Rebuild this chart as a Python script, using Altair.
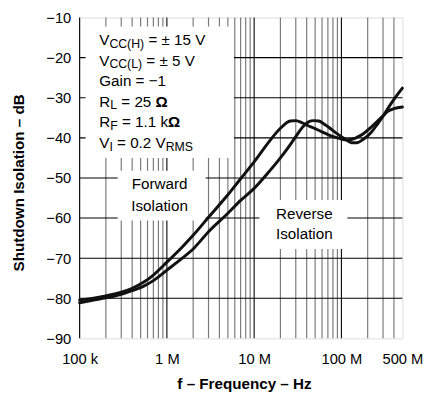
import altair as alt
import pandas as pd

# ---------------- data ----------------
freq_fwd = [1e5, 1.5e5, 2e5, 3e5, 4e5, 5.5e5, 7e5, 1e6, 1.5e6, 2e6, 3e6, 5e6, 7e6, 1e7,
            1.5e7, 2e7, 2.6e7, 3e7, 3.6e7, 4e7, 5e7, 6e7, 7.2e7, 9e7, 1e8, 1.15e8, 1.3e8,
            1.5e8, 1.8e8, 2.2e8, 2.6e8, 3e8, 3.4e8, 4e8, 5e8]
db_fwd = [-80.4, -79.9, -79.4, -78.5, -77.5, -75.9, -74.2, -71.0, -67.2, -64.3, -59.8, -54.2,
          -50.2, -46.0, -40.8, -37.6, -35.8, -35.7, -36.3, -36.8, -37.7, -38.5, -39.3, -40.0,
          -40.3, -40.5, -40.4, -39.9, -38.9, -37.3, -35.8, -34.5, -33.4, -32.7, -32.3]

freq_rev = [1e5, 1.5e5, 2e5, 3e5, 4e5, 5.5e5, 7e5, 1e6, 1.5e6, 2e6, 3e6, 5e6, 7e6, 1e7,
            1.5e7, 2e7, 2.5e7, 3e7, 3.6e7, 4.2e7, 4.8e7, 5.5e7, 6.2e7, 7.2e7, 9e7, 1e8,
            1.15e8, 1.3e8, 1.5e8, 1.8e8, 2.2e8, 2.6e8, 3e8, 3.4e8, 4e8, 5e8]
db_rev = [-81.1, -80.4, -79.9, -79.0, -78.1, -76.9, -75.6, -73.0, -70.0, -67.7, -63.4, -58.8,
          -55.6, -52.6, -48.3, -45.0, -42.2, -39.7, -37.3, -36.0, -35.7, -35.8, -36.4, -37.4,
          -39.0, -39.7, -40.6, -41.2, -41.2, -40.3, -38.6, -36.5, -34.6, -32.7, -30.4, -27.6]

x_tick_values = [1e5, 1e6, 1e7, 1e8, 5e8]
x_tick_labels = ["100 k", "1 M", "10 M", "100 M", "500 M"]
y_tick_values = [-90, -80, -70, -60, -50, -40, -30, -20, -10]

minor_freqs = [m * 10 ** e for e in range(5, 9) for m in range(1, 10) if m * 10 ** e <= 5e8]
major_freqs = [1e5, 1e6, 1e7, 1e8]
hgrid_db = [-80, -70, -60, -50, -40, -30, -20]

cond_lines = [
    [("V", "n"), ("CC(H)", "s"), (" = ± 15 V", "n")],
    [("V", "n"), ("CC(L)", "s"), (" = ± 5 V", "n")],
    [("Gain = −1", "n")],
    [("R", "n"), ("L", "s"), (" = 25 ", "n"), ("Ω", "b")],
    [("R", "n"), ("F", "s"), (" = 1.1 k", "n"), ("Ω", "b")],
    [("V", "n"), ("I", "s"), (" = 0.2 V", "n"), ("RMS", "s")],
]
fwd_label = ["Forward", "Isolation"]
rev_label = ["Reverse", "Isolation"]

# ---------------- layout / style ----------------
FONT = "Liberation Sans"
W, H = 329, 327
MAIN, SUB = 15.5, 12.5

xs = alt.Scale(type="log", domain=[1e5, 5e8], nice=False)
ys = alt.Scale(domain=[-90, -10], nice=False, zero=False)

label_expr = " : ".join(
    f"datum.value == {v} ? '{t}'" for v, t in zip(x_tick_values, x_tick_labels)
) + " : ''"

x_axis = alt.Axis(values=x_tick_values, labelExpr=label_expr, ticks=False, domain=False,
                  grid=False, labelFlush=False, labelOverlap=False, labelBound=False,
                  labelFontSize=15, labelPadding=14, labelColor="black", labelFont=FONT,
                  title="f – Frequency – Hz", titleFont=FONT, titleFontSize=15.5,
                  titleFontWeight="bold", titleColor="black", titleBaseline="alphabetic",
                  titleY=50.7, titleX=W / 2 + 3)
y_axis = alt.Axis(values=y_tick_values, ticks=False, domain=False, grid=False,
                  labelFontSize=15, labelPadding=9, labelColor="black", labelFont=FONT,
                  title="Shutdown Isolation – dB", titleFont=FONT, titleFontSize=15.5,
                  titleFontWeight="bold", titleColor="black", titleBaseline="middle",
                  titleX=-62.7, titleY=168, titleAngle=270)

X = lambda f: alt.X(f, type="quantitative", scale=xs, axis=x_axis)
Y = lambda f: alt.Y(f, type="quantitative", scale=ys, axis=y_axis)

minor_df = pd.DataFrame({"f": [f for f in minor_freqs if f not in major_freqs and f != 5e8]})
major_df = pd.DataFrame({"f": major_freqs})
hgrid_df = pd.DataFrame({"db": hgrid_db})

vminor = alt.Chart(minor_df).mark_rule(color="#7a7a7a", strokeWidth=1.2).encode(x=X("f"))
vmajor = alt.Chart(major_df).mark_rule(color="black", strokeWidth=1.1).encode(x=X("f"))
hgrid = alt.Chart(hgrid_df).mark_rule(color="black", strokeWidth=1.1).encode(y=Y("db"))

boxes_df = pd.DataFrame({
    "f0": [1.17e5, 2.73e5, 1.15e7],
    "f1": [5.88e6, 2.78e6, 1.17e8],
    "d0": [-12.2, -48.2, -55.5],
    "d1": [-45.0, -60.6, -67.7],
})
boxes = alt.Chart(boxes_df).mark_rect(color="white").encode(
    x=X("f0"), x2="f1", y=Y("d0"), y2="d1")

curve_df = pd.concat([
    pd.DataFrame({"f": freq_fwd, "db": db_fwd, "s": "Forward"}),
    pd.DataFrame({"f": freq_rev, "db": db_rev, "s": "Reverse"}),
])
curves = alt.Chart(curve_df).mark_line(
    color="#111111", strokeWidth=3, interpolate="monotone", strokeCap="round",
    strokeJoin="round").encode(x=X("f"), y=Y("db"), detail="s:N")

# character widths (Arial metrics, per em)
CW = {" ": .278, "=": .584, "±": .584, "−": .584, ".": .278, "(": .333, ")": .333,
      "0": .556, "1": .556, "2": .556, "5": .556, "V": .667, "C": .722, "H": .722,
      "L": .556, "G": .778, "a": .556, "i": .222, "n": .556, "R": .722, "F": .611,
      "k": .5, "Ω": .768, "I": .278, "M": .833, "S": .667}


def tw(t, size):
    return sum(CW.get(c, .556) for c in t) * size


text_layers = []
anchor_f = 1.68e5
line_db = [-16.85, -21.96, -27.08, -32.19, -37.30, -42.42]
for li, segs in enumerate(cond_lines):
    dx = 0.0
    for txt, kind in segs:
        size = SUB if kind == "s" else MAIN
        lead = len(txt) - len(txt.lstrip(" "))
        trail = len(txt) - len(txt.rstrip(" "))
        dx += lead * CW[" "] * size
        body = txt.strip(" ")
        seg_df = pd.DataFrame({"f": [anchor_f], "db": [line_db[li]], "t": [body]})
        text_layers.append(
            alt.Chart(seg_df).mark_text(
                align="left", baseline="alphabetic", font=FONT, fontSize=size,
                fontWeight="bold" if kind == "b" else "normal", color="black",
                dx=dx, dy=3 if kind == "s" else 0,
            ).encode(x=X("f"), y=Y("db"), text="t:N")
        )
        dx += tw(body, size) + trail * CW[" "] * size

lab_df = pd.DataFrame({
    "f": [8.25e5, 8.25e5, 3.76e7, 3.76e7],
    "db": [-52.8, -58.2, -60.2, -65.3],
    "t": fwd_label + rev_label,
})
labels = alt.Chart(lab_df).mark_text(
    align="center", baseline="alphabetic", font=FONT, fontSize=MAIN, color="black"
).encode(x=X("f"), y=Y("db"), text="t:N")

chart = alt.layer(vminor, vmajor, hgrid, boxes, curves, labels, *text_layers).properties(
    width=W, height=H,
    padding={"left": 73, "top": 6, "right": 21, "bottom": 55},
    autosize=alt.AutoSizeParams(type="none"),
    background="white",
).configure_view(stroke="black", strokeWidth=2.5).configure(font=FONT)

chart.save("out.html", embed_options={"renderer": "svg", "actions": False})
